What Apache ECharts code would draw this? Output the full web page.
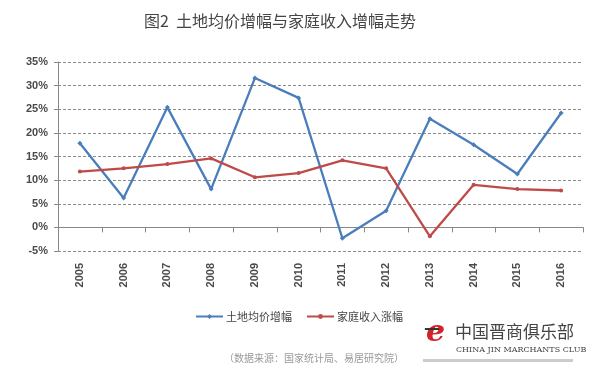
<!DOCTYPE html>
<html>
<head>
<meta charset="utf-8">
<script src="https://cdn.jsdelivr.net/npm/echarts@6/dist/echarts.min.js"></script>
<style>html,body{margin:0;padding:0;background:#fff;}#c{width:610px;height:372px;}</style>
</head>
<body>
<div id="c"></div>
<script>
var years = ['2005','2006','2007','2008','2009','2010','2011','2012','2013','2014','2015','2016'];
var landPrice = [17.8, 6.2, 25.4, 8.1, 31.6, 27.4, -2.3, 3.5, 23.0, 17.5, 11.3, 24.2];
var income = [11.8, 12.5, 13.4, 14.6, 10.6, 11.5, 14.2, 12.5, -1.9, 9.0, 8.1, 7.8];
var seriesNames = ['土地均价增幅', '家庭收入涨幅'];
var titleText = '图2  土地均价增幅与家庭收入增幅走势';
var sourceText = '（数据来源：国家统计局、易居研究院）';

var chart = echarts.init(document.getElementById('c'));
chart.setOption({
  backgroundColor: '#fff',
  animation: false,
  title: {
    text: titleText, left: 275, top: 8, textAlign: 'center',
    textStyle: {fontFamily: 'Noto Sans CJK SC', fontSize: 16, fontWeight: 'normal', color: '#444'}
  },
  grid: {left: 58, right: 27, top: 62, bottom: 121},
  legend: {
    top: 306, left: 190, itemWidth: 27, itemHeight: 6, itemGap: 14,
    textStyle: {fontFamily: 'Noto Sans CJK SC', fontSize: 11, color: '#444', padding: [0, 0, 0, -2]},
    data: seriesNames
  },
  xAxis: [{
    type: 'category', data: years, boundaryGap: true,
    axisLine: {onZero: true, lineStyle: {color: '#888', width: 1}},
    axisTick: {show: true, length: 5, lineStyle: {color: '#888'}},
    axisLabel: {show: false}
  }, {
    type: 'category', data: years, position: 'bottom', boundaryGap: true,
    axisLine: {show: false, onZero: false}, axisTick: {show: false},
    axisLabel: {rotate: 90, margin: 12, fontFamily: 'Liberation Sans', fontSize: 11, fontWeight: 'bold', color: '#4a4a4a'}
  }],
  yAxis: {
    type: 'value', min: -5, max: 35, interval: 5,
    axisLine: {show: true, lineStyle: {color: '#888'}},
    axisTick: {show: true, length: 4, lineStyle: {color: '#888'}},
    axisLabel: {formatter: '{value}%', margin: 10, fontFamily: 'Liberation Sans', fontSize: 11, fontWeight: 'bold', color: '#4a4a4a'},
    splitLine: {show: true, lineStyle: {color: '#8a8a8a', type: [3, 2], width: 1}}
  },
  series: [{
    name: seriesNames[0], type: 'line', data: landPrice, xAxisIndex: 0,
    symbol: 'diamond', symbolSize: 5,
    lineStyle: {color: '#4a7ebb', width: 2.3}, itemStyle: {color: '#4a7ebb'}
  }, {
    name: seriesNames[1], type: 'line', data: income, xAxisIndex: 0,
    symbol: 'circle', symbolSize: 4,
    lineStyle: {color: '#be4b48', width: 2.3}, itemStyle: {color: '#be4b48'}
  }],
  graphic: [
    {type: 'text', x: 224, y: 353, style: {text: sourceText, font: '10px "Noto Sans CJK SC"', fill: '#999'}},
    {type: 'rect', shape: {x: 423, y: 359, width: 150, height: 3}, style: {fill: '#ccc'}},
    {type: 'text', x: 426, y: 318, style: {text: 'e', font: 'italic bold 30px "DejaVu Serif"', fill: '#d2232a'}},
    {type: 'text', x: 424, y: 322, style: {text: '—', font: 'bold 16px "DejaVu Serif"', fill: '#333'}},
    {type: 'text', x: 455, y: 323, style: {text: '中国晋商俱乐部', font: '17px "Noto Sans CJK SC"', fill: '#444'}},
    {type: 'text', x: 456, y: 346, style: {text: 'CHINA JIN MARCHANTS CLUB', font: '8px "DejaVu Serif"', fill: '#444'}}
  ]
});
</script>
</body>
</html>
